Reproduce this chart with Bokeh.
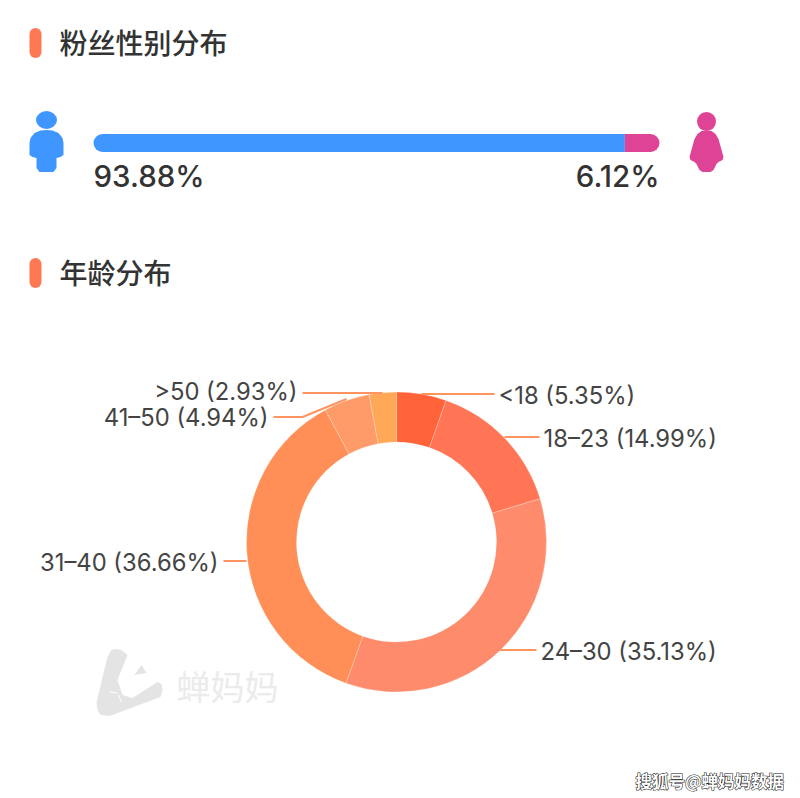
import math
from bokeh.embed import file_html
from bokeh.resources import INLINE
from bokeh.plotting import figure
from bokeh.models import Range1d, ColumnDataSource
from bokeh.core.properties import value

# ---- data
titles = ["粉丝性别分布", "年龄分布"]
gender_names = ["男", "女"]
gender_values = [93.88, 6.12]
gender_colors = ["#4096FF", "#DF4396"]
age_names = ["<18", "18–23", "24–30", "31–40", "41–50", ">50"]
age_values = [5.35, 14.99, 35.13, 36.66, 4.94, 2.93]
age_colors = ["#FF6337", "#FF7555", "#FF8B6D", "#FF8F57", "#FF9B68", "#FFA857"]
watermark = "蝉妈妈"
source_note = "搜狐号@蝉妈妈数据"

H = 798
def Y(v):
    return H - v

CJK = value("Noto Sans CJK SC")
CJKM = value("Noto Sans CJK SC Medium")
LAT = value("Inter")
LATM = value("Inter Medium")
INK = "#333333"
W_FIG, H_FIG = 792, 792
NUDGE_X, NUDGE_Y = 1, 0.5

p = figure(width=W_FIG, height=H_FIG, output_backend="svg", toolbar_location=None,
           x_range=Range1d(NUDGE_X, W_FIG + NUDGE_X), y_range=Range1d(H - H_FIG - NUDGE_Y, H - NUDGE_Y),
           x_axis_type=None, y_axis_type=None, min_border=0,
           outline_line_color=None, background_fill_color="white",
           border_fill_color="white")
p.grid.visible = False

# ---- section headers
for title, top in zip(titles, [28, 258]):
    p.quad(left=[30], right=[42], top=[Y(top)], bottom=[Y(top + 30)], fill_color="#FF7854",
           line_color=None, border_radius=6)
    p.text(x=[60], y=[Y(top + 14)], text=[title], text_font=CJKM, text_font_size="28px",
           text_color=INK, text_baseline="middle", text_align="left")

# ---- gender bar: a percent scale of its own, 0..100 across x=94..660
per = (660 - 94) / 100
p.extra_x_ranges["pct"] = Range1d((NUDGE_X - 94) / per, (W_FIG + NUDGE_X - 94) / per)
left = 0
for i, (v, c) in enumerate(zip(gender_values, gender_colors)):
    radius = (9, 0, 0, 9) if i == 0 else (0, 9, 9, 0)
    p.quad(left=[left], right=[left + v], top=[Y(134)], bottom=[Y(152)], fill_color=c,
           line_color=None, x_range_name="pct", border_radius=radius)
    left += v
p.text(x=[94], y=[Y(176)], text=[f"{gender_values[0]:.2f}%"], text_font=LATM, text_font_size="29.5px",
       text_color=INK, text_baseline="middle", text_align="left")
p.text(x=[660], y=[Y(176)], text=[f"{gender_values[1]:.2f}%"], text_font=LATM, text_font_size="29.5px",
       text_color=INK, text_baseline="middle", text_align="right")

# ---- person icons
p.ellipse(x=[47], y=[Y(120)], width=21, height=18, fill_color=gender_colors[0], line_color=None)
mx = [47, 53, 59, 63, 64, 64, 61, 57, 57, 54, 40, 37, 37, 33, 30, 30, 31, 35, 41]
my = [130, 130.5, 133, 138, 143, 155, 157, 158, 168, 172, 172, 168, 158, 157, 155, 143, 138, 133, 130.5]
p.patch(mx, [Y(b) for b in my], fill_color=gender_colors[0], line_color=None)
p.ellipse(x=[707], y=[Y(121.5)], width=19, height=19, fill_color=gender_colors[1], line_color=None)
fx = [707, 712, 716, 719, 724, 723, 719, 717, 714, 711, 703, 700, 697, 695, 691, 690, 695, 698, 702]
fy = [130.5, 131, 134, 139, 157, 160, 162, 164, 170, 172, 172, 170, 164, 162, 160, 157, 139, 134, 131]
p.patch(fx, [Y(b) for b in fy], fill_color=gender_colors[1], line_color=None)

# ---- donut, clockwise from 12 o'clock
cx, cy, r_in, r_out = 397, 542, 100, 150
acc = 0
starts, ends = [], []
for v in age_values:
    starts.append(math.pi / 2 - acc / 100 * 2 * math.pi)
    acc += v
    ends.append(math.pi / 2 - acc / 100 * 2 * math.pi)
src = ColumnDataSource(dict(s=starts, e=ends, c=age_colors))
p.annular_wedge(x=cx, y=Y(cy), inner_radius=r_in, outer_radius=r_out, start_angle="s", end_angle="e",
                direction="clock", fill_color="c", line_color="#FFFFFF", line_width=0.4,
                line_alpha=0.6, source=src)

# ---- leader lines and labels
leaders = [
    ([422, 495], [394, 394]),
    ([505, 540], [437, 437]),
    ([500, 537], [650, 650]),
    ([224, 247], [561, 561]),
    ([274, 303, 347], [417, 417, 399]),
    ([303, 383], [393, 393]),
]
anchors = [(499, 395, "left"), (544, 438, "left"), (541, 651, "left"),
           (219, 562, "right"), (269, 417, "right"), (298, 391, "right")]
for lead in leaders:
    p.line(lead[0], [Y(b) for b in lead[1]], line_color="#FF9460", line_width=2)
for name, v, (ax, ay, al) in zip(age_names, age_values, anchors):
    p.text(x=[ax], y=[Y(ay)], text=[f"{name} ({v:.2f}%)"], text_font=LAT, text_font_size="23.8px",
           text_color="#444444", text_baseline="middle", text_align=al)

# ---- watermark
lx = [108, 112, 117, 122, 128, 118, 123, 133, 158, 162, 163, 161, 110, 101, 98, 97]
ly = [657, 650, 649, 650, 655, 680, 695, 698, 682, 684, 690, 697, 716, 715, 710, 702]
p.patch(lx, [Y(b) for b in ly], fill_color="#E4E4E4", line_color=None)
p.patch([142, 135, 147], [Y(665), Y(675), Y(673)], fill_color="#E4E4E4", line_color=None)
p.line([110, 118], [Y(692), Y(693)], line_color="white", line_width=1)
p.line([119, 122], [Y(695), Y(702)], line_color="white", line_width=1)
p.text(x=[177], y=[Y(685)], text=[watermark], text_font=CJK, text_font_size="34px",
       text_color="#EBEBEB", text_baseline="middle", text_align="left")

# ---- source note: dark copy underneath, white on top
p.text(x=[636], y=[Y(781)], text=[source_note], text_font=CJK, text_font_size="16.5px",
       text_font_style="bold", text_color="#111111", text_outline_color="#111111",
       text_baseline="middle", text_align="left")
p.text(x=[636], y=[Y(781)], text=[source_note], text_font=CJK, text_font_size="16.5px",
       text_font_style="bold", text_color="white",
       text_baseline="middle", text_align="left")

open("out.html", "w").write(file_html(p, INLINE))
